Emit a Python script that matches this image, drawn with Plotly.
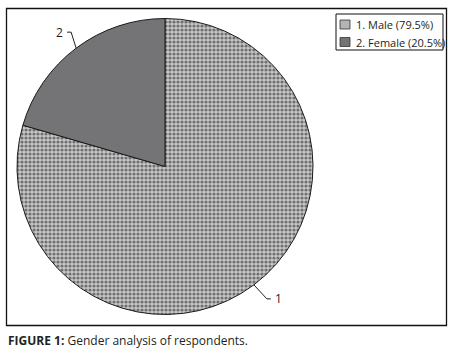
import math
import plotly.graph_objects as go

labels = ["1. Male (79.5%)", "2. Female (20.5%)"]
values = [79.5, 20.5]
slice_tags = ["1", "2"]
swatch_colors = ["#b4b4b4", "#747476"]

W, H = 456, 350
CX, CY, R = 165, 166.5, 148

def px(x):
    return x / W

def py(y):
    return 1 - y / H

fig = go.Figure()
fig.add_trace(go.Pie(
    labels=labels,
    values=values,
    sort=False,
    direction="clockwise",
    rotation=0,
    textinfo="none",
    hoverinfo="label+percent",
    showlegend=False,
    marker=dict(
        colors=["#b0b0b0", "#747476"],
        line=dict(color="#1a1a1a", width=1),
        pattern=dict(shape=[".", ""], fgcolor=["#6f6f6f", "#747476"],
                     bgcolor=["#c8c8c8", "#747476"], size=4, solidity=0.5),
    ),
    domain=dict(x=[px(CX - R), px(CX + R)], y=[py(CY + R), py(CY - R)]),
))

# leader lines + slice tags at the slice midpoints
total = sum(values)
cum = 0
offsets = [((13, 14), 4), ((-5, -16), -4)]
for v, tag, (elb, tail) in zip(values, slice_tags, offsets):
    mid = (cum + v / 2) / total * 2 * math.pi
    cum += v
    ex = CX + R * math.sin(mid)
    ey = CY - R * math.cos(mid)
    bx, by = ex + elb[0], ey + elb[1]
    tx = bx + tail
    fig.add_shape(type="path",
                  path=f"M {px(ex)},{py(ey)} L {px(bx)},{py(by)} L {px(tx)},{py(by)}",
                  xref="paper", yref="paper", line=dict(color="#222", width=1))
    fig.add_annotation(x=px(tx + (2 if tail > 0 else -2)), y=py(by), xref="paper", yref="paper",
                       text=tag, showarrow=False,
                       xanchor="left" if tail > 0 else "right", yanchor="middle",
                       font=dict(size=12, color="#231f20", family="Open Sans"))

# legend box
LX0, LY0, LX1, LY1 = 336, 14, 443, 50
fig.add_shape(type="rect", xref="paper", yref="paper",
              x0=px(LX0), x1=px(LX1), y0=py(LY1), y1=py(LY0),
              line=dict(color="#111", width=1), fillcolor="white")
for i, (lab, col) in enumerate(zip(labels, swatch_colors)):
    yc = 24.5 + i * 17.5
    fig.add_shape(type="rect", xref="paper", yref="paper",
                  x0=px(340), x1=px(350), y0=py(yc + 4.5), y1=py(yc - 4.5),
                  line=dict(color="#333", width=0.8), fillcolor=col)
    fig.add_annotation(x=px(354), y=py(yc), xref="paper", yref="paper",
                       text=lab, showarrow=False, xanchor="left", yanchor="middle",
                       font=dict(size=11, color="#231f20", family="Open Sans"))

# outer frame
fig.add_shape(type="rect", xref="paper", yref="paper",
              x0=px(6.5), x1=px(446.5), y0=py(325.5), y1=py(8.5),
              line=dict(color="#111", width=1.3))

# caption
fig.add_annotation(x=px(6), y=py(340), xref="paper", yref="paper",
                   text="<b>FIGURE 1:</b> Gender analysis of respondents.",
                   showarrow=False, xanchor="left", yanchor="middle",
                   font=dict(size=12, color="#231f20", family="Open Sans"))

fig.update_layout(
    width=W, height=H,
    margin=dict(l=0, r=0, t=0, b=0),
    paper_bgcolor="white", plot_bgcolor="white",
    showlegend=False,
)

fig.write_html("out.html", config={"displayModeBar": False},
               post_script="document.body.style.margin='0';document.body.style.overflow='hidden';")
